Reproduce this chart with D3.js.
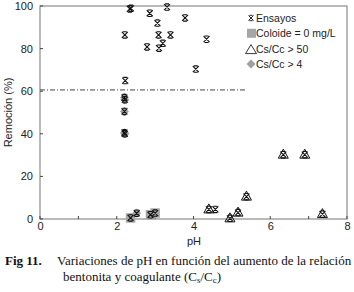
<!DOCTYPE html>
<html>
<head>
<meta charset="utf-8">
<script src="https://cdn.jsdelivr.net/npm/d3@7"></script>
<style>
  body { margin: 0; background: #fff; }
  svg { font-family: "Liberation Sans", Arial, sans-serif; }
</style>
</head>
<body>
<svg id="chart"></svg>
<script>
// pH, remocion (%)
const ensayos = [
  [2.34, 98.6], [2.37, 98.9], [3.31, 99.5], [2.86, 96.6], [3.06, 92],
  [3.78, 94.4], [2.21, 86.4], [3.09, 86.4], [3.40, 86.4], [4.34, 84.4],
  [2.79, 80.8], [3.10, 80.2], [3.20, 82.5], [4.06, 70.4], [2.22, 65],
  [4.57, 4.5]
];
const coloide0 = [[2.36, 0.5], [2.88, 2], [3.0, 2.8]];
const csccMas50 = [[4.40, 4.5], [4.95, 0.3], [5.16, 3], [5.38, 10.5], [6.34, 30.2], [6.90, 30.2], [7.36, 2.3]];
const csccMas4 = [[2.2, 57], [2.21, 56], [2.2, 50.5], [2.2, 40.5], [2.21, 40], [2.52, 2.7]];
const umbral = { value: 60.6, to: 5.37 };

const xTicks = [0, 2, 4, 6, 8];
const xMinor = [1, 3, 5, 7];
const yTicks = [0, 20, 40, 60, 80, 100];
const legendItems = ["Ensayos", "Coloide = 0 mg/L", "Cs/Cc > 50", "Cs/Cc > 4"];

const width = 354, height = 292;
const margin = { top: 6, right: 7, bottom: 73, left: 40 };
const axisColor = "#8c8c8c";

const svg = d3.select("#chart").attr("width", width).attr("height", height);

const x = d3.scaleLinear().domain([0, 8]).range([margin.left, width - margin.right]);
const y = d3.scaleLinear().domain([0, 100]).range([height - margin.bottom, margin.top]);

// frame
svg.append("rect")
  .attr("x", x(0)).attr("y", y(100))
  .attr("width", x(8) - x(0)).attr("height", y(0) - y(100))
  .attr("fill", "none").attr("stroke", axisColor).attr("stroke-width", 1.2);

// x axis
const xAxis = svg.append("g")
  .attr("transform", `translate(0,${y(0)})`)
  .call(d3.axisBottom(x).tickValues(xTicks).tickSize(0).tickPadding(3).tickFormat(d3.format("d")));
xAxis.select(".domain").remove();
xAxis.selectAll("text").attr("font-size", 11).attr("fill", "#222");
svg.append("g").selectAll("line")
  .data(xTicks.concat(xMinor))
  .join("line")
  .attr("x1", (d) => x(d)).attr("x2", (d) => x(d))
  .attr("y1", y(0)).attr("y2", y(0) - 3)
  .attr("stroke", "#444").attr("stroke-width", 1);

// y axis
const yAxis = svg.append("g")
  .attr("transform", `translate(${x(0)},0)`)
  .call(d3.axisLeft(y).tickValues(yTicks).tickSize(0).tickPadding(7));
yAxis.select(".domain").remove();
yAxis.selectAll("text").attr("font-size", 11).attr("fill", "#222");
svg.append("g").selectAll("line")
  .data(yTicks)
  .join("line")
  .attr("x1", x(0)).attr("x2", x(0) + 3)
  .attr("y1", (d) => y(d)).attr("y2", (d) => y(d))
  .attr("stroke", "#444").attr("stroke-width", 1);

// axis labels
svg.append("text")
  .attr("x", 194).attr("y", 245)
  .attr("text-anchor", "middle").attr("font-size", 11).attr("fill", "#222")
  .text("pH");
svg.append("text")
  .attr("transform", `translate(12,${(y(0) + y(100)) / 2}) rotate(-90)`)
  .attr("text-anchor", "middle").attr("font-size", 11).attr("fill", "#222")
  .text("Remoción (%)");

// dash-dot threshold line
svg.append("line")
  .attr("x1", x(0)).attr("x2", x(umbral.to))
  .attr("y1", y(umbral.value)).attr("y2", y(umbral.value))
  .attr("stroke", "#444").attr("stroke-width", 1)
  .attr("stroke-dasharray", "5,2,1,2");

// symbols
const squareSym = d3.symbol().type(d3.symbolSquare).size(90);
const diamond = "M0,-4.5L4.5,0L0,4.5L-4.5,0Z";
const triangle = "M0,-5.5L5,3.5L-5,3.5Z";
const star = "M-3,-3L3,3M-3,3L3,-3M-2,-3.2L2,-3.2M-2,3.2L2,3.2";

const marks = svg.append("g");
marks.selectAll(".sq").data(coloide0).join("path")
  .attr("class", "sq")
  .attr("transform", (d) => `translate(${x(d[0])},${y(d[1])})`)
  .attr("d", squareSym).attr("fill", "#a6a6a6");
marks.selectAll(".dm").data(csccMas4).join("path")
  .attr("class", "dm")
  .attr("transform", (d) => `translate(${x(d[0])},${y(d[1])})`)
  .attr("d", diamond).attr("fill", "#a0a0a0");
marks.selectAll(".tr").data(csccMas50).join("path")
  .attr("class", "tr")
  .attr("transform", (d) => `translate(${x(d[0])},${y(d[1])})`)
  .attr("d", triangle).attr("fill", "none").attr("stroke", "#111").attr("stroke-width", 1);

// every trial gets the asterisk on top
const allTrials = ensayos.concat(coloide0, csccMas50, csccMas4);
marks.selectAll(".st").data(allTrials).join("path")
  .attr("class", "st")
  .attr("transform", (d) => `translate(${x(d[0])},${y(d[1])})`)
  .attr("d", star).attr("fill", "none").attr("stroke", "#111").attr("stroke-width", 1.1);

// legend
const legend = svg.append("g").attr("transform", "translate(251,18)");
const rows = legend.selectAll("g").data(legendItems).join("g")
  .attr("transform", (d, i) => `translate(0,${i * 15.3})`);
rows.append("text")
  .attr("x", 5).attr("y", 4)
  .attr("font-size", 10.5).attr("fill", "#222")
  .text((d) => d);
legend.append("path").attr("d", "M-2.5,-2.5L2.5,2.5M-2.5,2.5L2.5,-2.5M-1.6,-2.7L1.6,-2.7M-1.6,2.7L1.6,2.7")
  .attr("fill", "none").attr("stroke", "#222").attr("stroke-width", 1);
legend.append("rect").attr("x", -4).attr("y", 15.3 - 4.5).attr("width", 9).attr("height", 9).attr("fill", "#a6a6a6");
legend.append("path").attr("transform", `translate(0,${15.3 * 2 + 1})`)
  .attr("d", "M0,-5L5.5,4L-5.5,4Z").attr("fill", "none").attr("stroke", "#222").attr("stroke-width", 0.9);
legend.append("path").attr("transform", `translate(0,${15.3 * 3})`).attr("d", diamond).attr("fill", "#a0a0a0");

// caption
const cap = svg.append("text")
  .style("font-family", "'Liberation Serif', 'Times New Roman', serif")
  .attr("font-size", 13).attr("fill", "#111");
cap.append("tspan").attr("x", 5).attr("y", 265).attr("font-weight", "bold").text("Fig 11.");
cap.append("tspan").attr("x", 57).attr("y", 265).text("Variaciones de pH en función del aumento de la relación");
const line2 = cap.append("tspan").attr("x", 63).attr("y", 281);
line2.text("bentonita y coagulante (C");
cap.append("tspan").attr("font-size", 9).attr("dy", 2).text("s");
cap.append("tspan").attr("dy", -2).text("/C");
cap.append("tspan").attr("font-size", 9).attr("dy", 2).text("c");
cap.append("tspan").attr("dy", -2).text(")");
</script>
</body>
</html>
